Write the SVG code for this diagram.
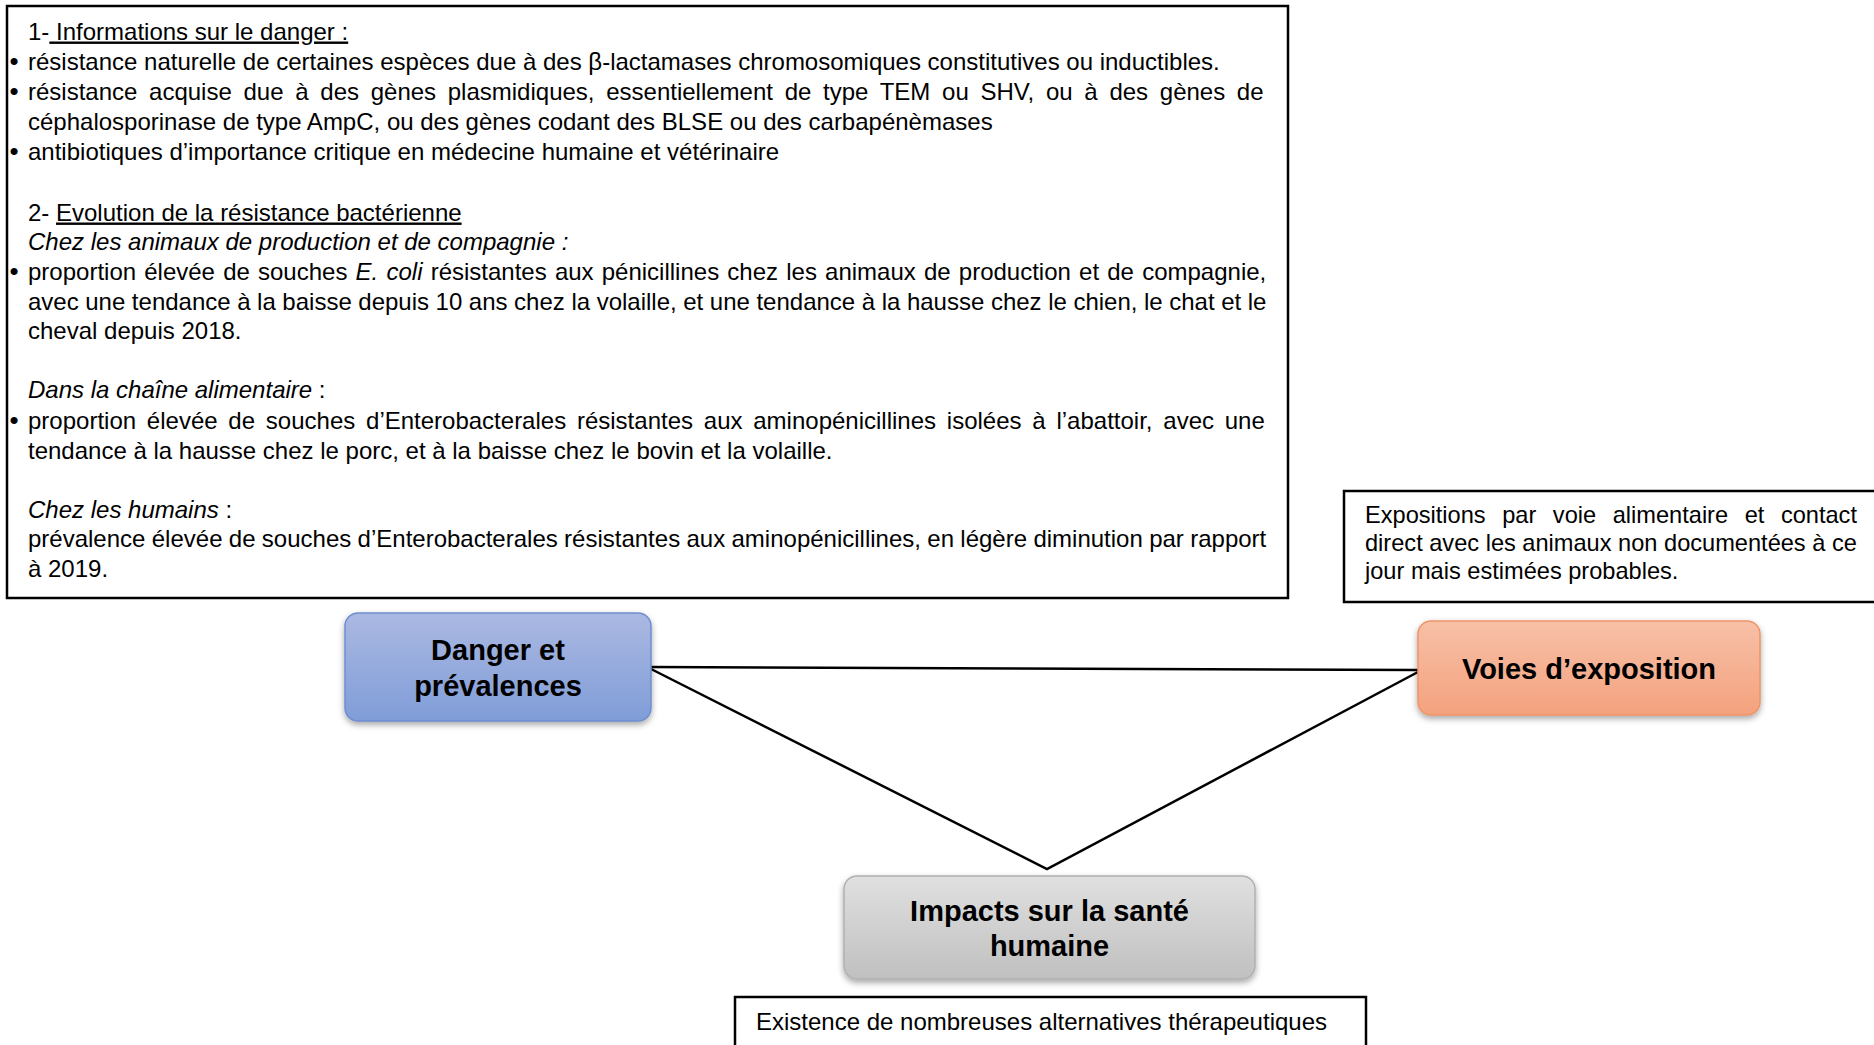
<svg xmlns="http://www.w3.org/2000/svg" width="1874" height="1045" viewBox="0 0 1874 1045">
<defs>
<style>
.t{font-family:"Liberation Sans",Arial,sans-serif;font-size:24px;fill:#000}
.b{font-family:"Liberation Sans",Arial,sans-serif;font-size:26px;fill:#000}
.e{font-family:"Liberation Sans",Arial,sans-serif;font-size:23.6px;fill:#000}
.n{font-family:"Liberation Sans",Arial,sans-serif;font-size:29px;font-weight:bold;fill:#000;text-anchor:middle}
.i{font-style:italic}
.u{text-decoration:underline}
.box{fill:#fff;stroke:#000;stroke-width:2.5}
.c{stroke:#000;stroke-width:2.5;fill:none}
</style>
<linearGradient id="gb" x1="0" y1="0" x2="0" y2="1"><stop offset="0" stop-color="#abb9e2"/><stop offset="1" stop-color="#809dd8"/></linearGradient>
<linearGradient id="go" x1="0" y1="0" x2="0" y2="1"><stop offset="0" stop-color="#f7c0a7"/><stop offset="1" stop-color="#f4a27e"/></linearGradient>
<linearGradient id="gg" x1="0" y1="0" x2="0" y2="1"><stop offset="0" stop-color="#e0e0e0"/><stop offset="1" stop-color="#c0c0c0"/></linearGradient>
<filter id="sh" x="-10%" y="-10%" width="120%" height="130%"><feDropShadow dx="0" dy="3" stdDeviation="3" flood-color="#000" flood-opacity="0.35"/></filter>
</defs>
<g id="info-box">
<rect class="box" x="7" y="6" width="1281" height="592"/>
<text class="t" x="28" y="39.5">1-<tspan class="u"> Informations sur le danger :</tspan></text>
<text class="b" x="9.5" y="70">•</text>
<text class="t" x="28" y="70">résistance naturelle de certaines espèces due à des β-lactamases chromosomiques constitutives ou inductibles.</text>
<text class="b" x="9.5" y="100">•</text>
<text class="t" x="28" y="100" style="word-spacing:5.03px">résistance acquise due à des gènes plasmidiques, essentiellement de type TEM ou SHV, ou à des gènes de</text>
<text class="t" x="28" y="129.5">céphalosporinase de type AmpC, ou des gènes codant des BLSE ou des carbapénèmases</text>
<text class="b" x="9.5" y="160">•</text>
<text class="t" x="28" y="160">antibiotiques d’importance critique en médecine humaine et vétérinaire</text>
<text class="t" x="28" y="220.5">2- <tspan class="u">Evolution de la résistance bactérienne</tspan></text>
<text class="t i" x="28" y="249.5">Chez les animaux de production et de compagnie :</text>
<text class="b" x="9.5" y="280">•</text>
<text class="t" x="28" y="280" style="word-spacing:1.51px">proportion élevée de souches <tspan class="i">E. coli</tspan> résistantes aux pénicillines chez les animaux de production et de compagnie,</text>
<text class="t" x="28" y="309.5" style="word-spacing:-0.1px">avec une tendance à la baisse depuis 10 ans chez la volaille, et une tendance à la hausse chez le chien, le chat et le</text>
<text class="t" x="28" y="339">cheval depuis 2018.</text>
<text class="t" x="28" y="398"><tspan class="i">Dans la chaîne alimentaire</tspan> :</text>
<text class="b" x="9.5" y="429">•</text>
<text class="t" x="28" y="429" style="word-spacing:4.12px">proportion élevée de souches d’Enterobacterales résistantes aux aminopénicillines isolées à l’abattoir, avec une</text>
<text class="t" x="28" y="458.5">tendance à la hausse chez le porc, et à la baisse chez le bovin et la volaille.</text>
<text class="t" x="28" y="517.5"><tspan class="i">Chez les humains</tspan> :</text>
<text class="t" x="28" y="547" style="word-spacing:-0.32px">prévalence élevée de souches d’Enterobacterales résistantes aux aminopénicillines, en légère diminution par rapport</text>
<text class="t" x="28" y="576.5">à 2019.</text>
</g>
<g id="expo-box">
<rect class="box" x="1344" y="491" width="540" height="111"/>
<text class="e" x="1365" y="523" style="word-spacing:10px">Expositions par voie alimentaire et contact</text>
<text class="e" x="1365" y="551">direct avec les animaux non documentées à ce</text>
<text class="e" x="1365" y="579">jour mais estimées probables.</text>
</g>
<g id="therap-box">
<rect class="box" x="735" y="997" width="631" height="70"/>
<text class="t" x="756" y="1030">Existence de nombreuses alternatives thérapeutiques</text>
</g>
<g id="connectors">
<line class="c" x1="651" y1="667" x2="1418" y2="670"/>
<polyline class="c" points="651,669 1047,869 1418,672"/>
</g>
<g id="node-danger">
<rect x="345" y="613" width="306" height="108" rx="13" fill="url(#gb)" stroke="#6f8dcf" stroke-width="1.5" filter="url(#sh)"/>
<text class="n" x="498" y="660">Danger et</text>
<text class="n" x="498" y="696">prévalences</text>
</g>
<g id="node-voies">
<rect x="1418" y="621" width="342" height="94" rx="13" fill="url(#go)" stroke="#ee9467" stroke-width="1.5" filter="url(#sh)"/>
<text class="n" x="1589" y="679">Voies d’exposition</text>
</g>
<g id="node-impacts">
<rect x="844" y="876" width="411" height="103" rx="13" fill="url(#gg)" stroke="#b0b0b0" stroke-width="1.5" filter="url(#sh)"/>
<text class="n" x="1049.5" y="921">Impacts sur la santé</text>
<text class="n" x="1049.5" y="956">humaine</text>
</g>
</svg>
